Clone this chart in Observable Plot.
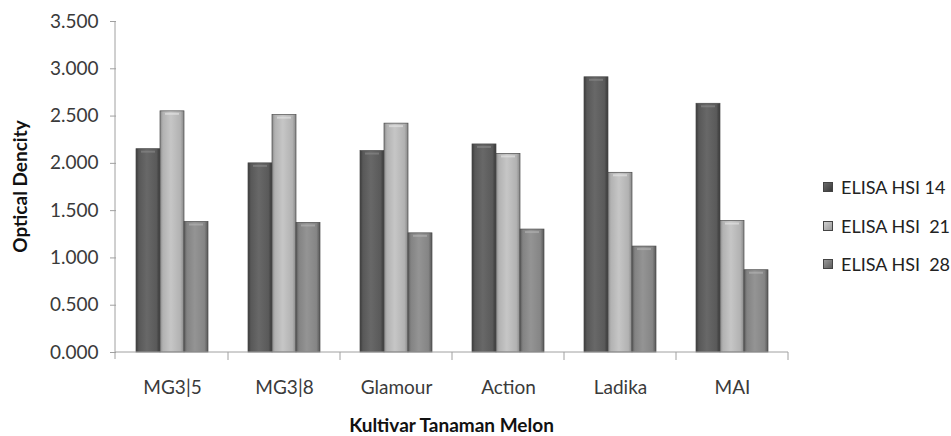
<!DOCTYPE html>
<html>
<head>
<meta charset="utf-8">
<script src="https://cdn.jsdelivr.net/npm/d3@7"></script>
<script src="https://cdn.jsdelivr.net/npm/@observablehq/plot@0.6"></script>
<style>
  html, body { margin: 0; padding: 0; background: #fff; }
  #wrap { position: relative; width: 951px; height: 436px; overflow: hidden; font-family: Lato, "Open Sans", sans-serif; }
  #chart { position: absolute; left: 0; top: 0; }
  #legend { position: absolute; left: 823px; top: 176px; }
  .row { display: flex; align-items: center; height: 22px; margin-bottom: 16.5px; font-size: 18px; color: #222; white-space: pre; }
  .sw { width: 10px; height: 10px; margin-right: 8px; box-sizing: border-box; border: 1px solid #444; }
</style>
</head>
<body>
<div id="wrap"><div id="chart"></div><div id="legend"></div></div>
<script>
const categories = ["MG3|5", "MG3|8", "Glamour", "Action", "Ladika", "MAI"];
const series = ["ELISA HSI 14", "ELISA HSI  21", "ELISA HSI  28"];
const hsi14 = [2.15, 2.00, 2.13, 2.20, 2.91, 2.63];
const hsi21 = [2.55, 2.51, 2.42, 2.10, 1.90, 1.39];
const hsi28 = [1.38, 1.37, 1.26, 1.30, 1.12, 0.87];
const yTicks = [0, 0.5, 1.0, 1.5, 2.0, 2.5, 3.0, 3.5];
const seriesValues = [hsi14, hsi21, hsi28];
const gradIds = ["g14", "g21", "g28"];
const capColors = ["#8a8a8a", "#e6e6e6", "#b4b4b4"];

const data = [];
series.forEach((s, si) => categories.forEach((c, ci) => data.push({cat: c, series: s, si, value: seriesValues[si][ci]})));

const plot = Plot.plot({
  width: 800,
  height: 436,
  marginLeft: 115,
  marginRight: 12,
  marginTop: 21,
  marginBottom: 84,
  style: {fontFamily: "Lato, 'Open Sans', sans-serif", fontSize: "19px", color: "#3a3a3a", background: "white"},
  fx: {domain: categories, padding: 0, label: null},
  x: {domain: series, paddingInner: 0, paddingOuter: 0.745, axis: null},
  y: {domain: [0, 3.5], label: null, axis: null},
  color: {type: "identity"},
  marks: [
    Plot.barY(data, {fx: "cat", x: "series", y: "value", fill: d => `url(#${gradIds[d.si]})`, stroke: "#4a4a4a", strokeWidth: 0.7}),
    Plot.tickY(data, {fx: "cat", x: "series", y: "value", stroke: d => capColors[d.si], strokeWidth: 2, dy: 2.5, insetLeft: 5, insetRight: 5, strokeOpacity: 0.6}),
    Plot.axisY({ticks: yTicks, tickFormat: d3.format(".3f"), tickSize: 6, tickPadding: 12, stroke: "#a0a0a0", fill: "#3a3a3a", fontSize: 19, label: null}),
    Plot.axisFx({anchor: "bottom", tickSize: 0, tickPadding: 28, fontSize: 19, fill: "#3a3a3a", label: null})
  ]
});

const svg = d3.select(plot);
const defs = svg.insert("defs", ":first-child");
const gradStops = [
  [["0", "#3a3a3a"], ["0.12", "#585858"], ["0.45", "#686868"], ["0.85", "#5a5a5a"], ["1", "#383838"]],
  [["0", "#8a8a8a"], ["0.12", "#b2b2b2"], ["0.45", "#c6c6c6"], ["0.85", "#b2b2b2"], ["1", "#888888"]],
  [["0", "#5a5a5a"], ["0.12", "#838383"], ["0.45", "#949494"], ["0.85", "#858585"], ["1", "#585858"]]
];
gradIds.forEach((id, i) => {
  const g = defs.append("linearGradient").attr("id", id).attr("x1", 0).attr("x2", 1).attr("y1", 0).attr("y2", 0);
  gradStops[i].forEach(([o, c]) => g.append("stop").attr("offset", o).attr("stop-color", c));
});

const fx = plot.scale("fx");
const y = plot.scale("y");
const [xl, xr] = fx.range;
const y0 = y.apply(0), yTop = y.apply(3.5);
const axes = svg.append("g").attr("stroke", "#a0a0a0").attr("stroke-width", 1);
axes.append("line").attr("x1", xl).attr("x2", xl).attr("y1", yTop).attr("y2", y0 + 7);
axes.append("line").attr("x1", xl).attr("x2", xr).attr("y1", y0).attr("y2", y0);
categories.forEach(c => {
  const x0 = fx.apply(c);
  const x1 = x0 + fx.bandwidth;
  axes.append("line").attr("x1", x1).attr("x2", x1).attr("y1", y0).attr("y2", y0 + 8);
});

svg.append("text")
  .attr("transform", `translate(${xl - 95},${(y0 + yTop) / 2}) rotate(-90)`)
  .attr("text-anchor", "middle").attr("dy", "0.35em")
  .attr("font-weight", "bold").attr("font-size", 19).attr("fill", "#111")
  .text("Optical Dencity");
svg.append("text")
  .attr("x", (xl + xr) / 2).attr("y", 432)
  .attr("text-anchor", "middle")
  .attr("font-weight", "bold").attr("font-size", 19).attr("fill", "#111")
  .text("Kultivar Tanaman Melon");

document.getElementById("chart").appendChild(plot);

const swatches = [
  "linear-gradient(135deg, #6a6a6a, #3a3a3a)",
  "linear-gradient(135deg, #d0d0d0, #9a9a9a)",
  "linear-gradient(135deg, #9a9a9a, #5e5e5e)"
];
const legend = d3.select("#legend");
series.forEach((s, i) => {
  const row = legend.append("div").attr("class", "row");
  row.append("div").attr("class", "sw").style("background", swatches[i]);
  row.append("span").text(s);
});
</script>
</body>
</html>
